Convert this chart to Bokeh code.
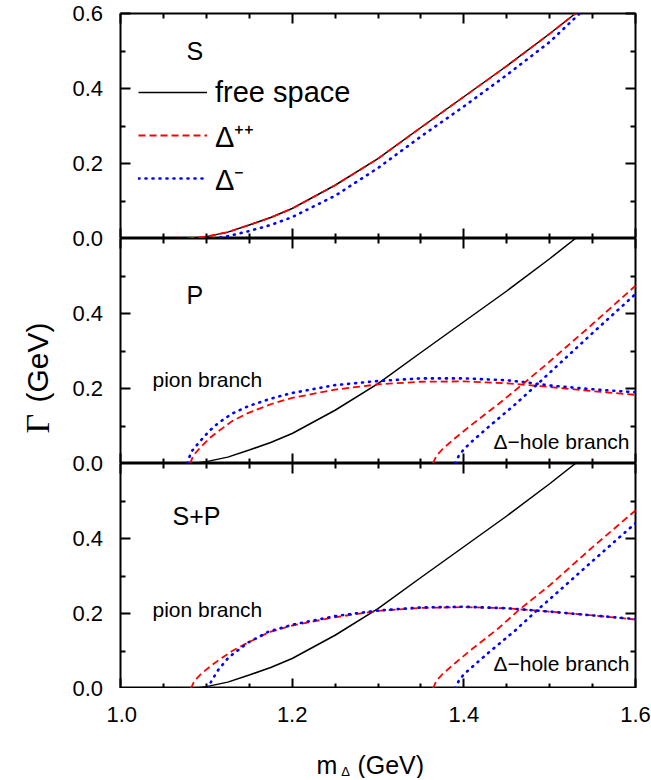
import math
from bokeh.plotting import figure
from bokeh.layouts import column, row
from bokeh.models import (Range1d, LinearAxis, FixedTicker, PrintfTickFormatter,
                          CustomJSTickFormatter, Label, Legend, LegendItem)
from bokeh.core.properties import value
from bokeh.embed import file_html
from bokeh.resources import INLINE

# ---------------- data ----------------
# free-space width (same curve in all three panels)
m_free = [1.076, 1.09, 1.10, 1.125, 1.15, 1.175, 1.20, 1.25, 1.30, 1.35, 1.40, 1.45, 1.50, 1.53, 1.55]
g_free = [0.000, 0.002, 0.005, 0.017, 0.036, 0.056, 0.080, 0.142, 0.213, 0.296, 0.378, 0.460, 0.546, 0.600, 0.634]

# S-wave panel
m_s_pp = [1.078, 1.10, 1.125, 1.15, 1.175, 1.20, 1.25, 1.30, 1.35, 1.40, 1.45, 1.50, 1.53, 1.55]
g_s_pp = [0.000, 0.005, 0.017, 0.036, 0.056, 0.080, 0.142, 0.213, 0.296, 0.378, 0.460, 0.546, 0.600, 0.634]
m_s_m = [1.108, 1.125, 1.15, 1.175, 1.20, 1.25, 1.30, 1.35, 1.40, 1.45, 1.50, 1.535, 1.55]
g_s_m = [0.000, 0.006, 0.020, 0.036, 0.057, 0.114, 0.188, 0.272, 0.352, 0.436, 0.524, 0.600, 0.628]

# P-wave panel: pion branch and Delta-hole branch
m_p_pion_pp = [1.081, 1.085, 1.094, 1.104, 1.114, 1.13, 1.149, 1.175, 1.20, 1.25, 1.30, 1.35, 1.40, 1.45, 1.50, 1.55, 1.60]
g_p_pion_pp = [0.000, 0.022, 0.045, 0.068, 0.086, 0.113, 0.135, 0.158, 0.175, 0.197, 0.211, 0.218, 0.219, 0.214, 0.204, 0.193, 0.183]
m_p_pion_m = [1.078, 1.082, 1.094, 1.104, 1.114, 1.13, 1.149, 1.175, 1.20, 1.25, 1.30, 1.35, 1.40, 1.45, 1.474, 1.50, 1.55, 1.60]
g_p_pion_m = [0.000, 0.030, 0.063, 0.088, 0.108, 0.133, 0.153, 0.173, 0.188, 0.209, 0.220, 0.227, 0.227, 0.222, 0.216, 0.208, 0.198, 0.190]
m_p_hole_pp = [1.364, 1.368, 1.375, 1.39, 1.41, 1.44, 1.471, 1.50, 1.55, 1.60]
g_p_hole_pp = [0.000, 0.020, 0.038, 0.068, 0.105, 0.158, 0.216, 0.272, 0.372, 0.474]
m_p_hole_m = [1.390, 1.394, 1.40, 1.41, 1.43, 1.46, 1.485, 1.50, 1.55, 1.60]
g_p_hole_m = [0.000, 0.020, 0.038, 0.060, 0.100, 0.158, 0.210, 0.242, 0.348, 0.452]

# S+P panel
m_sp_pion_pp = [1.082, 1.086, 1.094, 1.104, 1.114, 1.13, 1.149, 1.173, 1.20, 1.25, 1.30, 1.35, 1.40, 1.45, 1.50, 1.55, 1.60]
g_sp_pion_pp = [0.000, 0.020, 0.039, 0.058, 0.075, 0.100, 0.123, 0.150, 0.168, 0.190, 0.207, 0.215, 0.217, 0.214, 0.205, 0.195, 0.184]
m_sp_pion_m = [1.101, 1.106, 1.114, 1.126, 1.149, 1.173, 1.20, 1.25, 1.30, 1.35, 1.40, 1.45, 1.50, 1.55, 1.60]
g_sp_pion_m = [0.000, 0.020, 0.050, 0.083, 0.123, 0.152, 0.170, 0.193, 0.208, 0.216, 0.218, 0.214, 0.205, 0.195, 0.185]
m_sp_hole_pp = [1.364, 1.368, 1.375, 1.39, 1.41, 1.44, 1.465, 1.50, 1.55, 1.60]
g_sp_hole_pp = [0.000, 0.020, 0.038, 0.068, 0.106, 0.160, 0.211, 0.275, 0.377, 0.475]
m_sp_hole_m = [1.390, 1.394, 1.40, 1.41, 1.43, 1.46, 1.485, 1.50, 1.55, 1.60]
g_sp_hole_m = [0.000, 0.020, 0.038, 0.058, 0.098, 0.155, 0.208, 0.238, 0.340, 0.441]

# axes / tick labels
x_major = [1.0, 1.2, 1.4, 1.6]
x_minor = [1.05, 1.1, 1.15, 1.25, 1.3, 1.35, 1.45, 1.5, 1.55]
y_major_top = [0.0, 0.2, 0.4, 0.6]
y_major = [0.0, 0.2, 0.4]
y_minor = [0.1, 0.3, 0.5]
# tick labels of the three stacked panels (bottom panel first) on one label strip
y_label_ticks = [0.0, 0.2, 0.4, 0.6, 0.8, 1.0, 1.2, 1.4, 1.6, 1.8]
y_label_texts = ["0.0", "0.2", "0.4", "0.0", "0.2", "0.4", "0.0", "0.2", "0.4", "0.6"]

panel_names = ["S", "P", "S+P"]
legend_labels = ["free space", "Δ⁺⁺", "Δ⁻"]

# ---------------- styling ----------------
SANS = "Liberation Sans"
SERIF = "Liberation Serif"
FW, FH = 515, 225
LB = 14          # left border of the panels (label strip is to their left)
EMPTY = "return ''"


def style_axis(ax):
    ax.axis_line_color = None
    ax.major_tick_in = 10
    ax.major_tick_out = 0
    ax.minor_tick_in = 5
    ax.minor_tick_out = 0
    ax.major_tick_line_width = 2
    ax.minor_tick_line_width = 2
    ax.major_tick_line_color = "black"
    ax.minor_tick_line_color = "black"
    ax.formatter = CustomJSTickFormatter(code=EMPTY)
    ax.major_label_text_font_size = "0px"
    ax.major_label_standoff = 0


def panel(top_border, y_ticks):
    p = figure(frame_width=FW, frame_height=FH,
               x_range=Range1d(1.0, 1.6), y_range=Range1d(0.0, 0.6),
               output_backend="svg", toolbar_location=None,
               x_axis_location=None, y_axis_location=None,
               min_border_left=LB, min_border_right=10,
               min_border_top=top_border, min_border_bottom=0,
               background_fill_color="white", border_fill_color="white")
    for g in p.grid:
        g.visible = False
    p.outline_line_color = "black"
    p.outline_line_width = 2
    p.outline_line_alpha = 1.0
    for loc, tk, mn in (("below", x_major, x_minor), ("above", x_major, x_minor),
                        ("left", y_ticks, y_minor), ("right", y_ticks, y_minor)):
        ax = LinearAxis(ticker=FixedTicker(ticks=tk, minor_ticks=mn))
        style_axis(ax)
        p.add_layout(ax, loc)
    return p


def free_line(p):
    return p.line(m_free, g_free, line_color="black", line_width=1.5)


def red_line(p, x, y):
    return p.line(x, y, line_color="#ff0000", line_width=1.8, line_dash="7 4")


def blue_line(p, x, y):
    return p.line(x, y, line_color="#0000ff", line_width=2.6, line_dash="1 6",
                  line_cap="round")


def panel_label(p, text, x, y):
    p.add_layout(Label(x=x, y=y, text=text, text_font=SANS, text_font_size="25px",
                       text_color="black", text_baseline="middle", text_align="left"))


def branch_labels(p, y_pion, y_hole):
    p.add_layout(Label(x=1.0373, y=y_pion, text="pion branch", text_font=SANS,
                       text_font_size="21px", text_color="black",
                       text_baseline="middle", text_align="left"))
    p.add_layout(Label(x=1.593, y=y_hole, text="Δ−hole branch", text_font=SANS,
                       text_font_size="21px", text_color="black",
                       text_baseline="middle", text_align="right"))


# ---------------- panel 1: S ----------------
p1 = panel(13, y_major_top)
r_free = free_line(p1)
r_pp = red_line(p1, m_s_pp, g_s_pp)
r_m = blue_line(p1, m_s_m, g_s_m)
panel_label(p1, panel_names[0], 1.077, 0.50)
legend = Legend(items=[LegendItem(label=legend_labels[0], renderers=[r_free]),
                       LegendItem(label=legend_labels[1], renderers=[r_pp]),
                       LegendItem(label=legend_labels[2], renderers=[r_m])],
                location=(18, 40), orientation="vertical",
                border_line_color=None, background_fill_alpha=0.0,
                padding=0, margin=0, spacing=3,
                glyph_width=69, glyph_height=40, label_height=40, label_standoff=8,
                label_text_font=SANS, label_text_font_size="29px", label_text_color="black")
p1.add_layout(legend)

# ---------------- panel 2: P ----------------
p2 = panel(0, y_major)
free_line(p2)
red_line(p2, m_p_pion_pp, g_p_pion_pp)
blue_line(p2, m_p_pion_m, g_p_pion_m)
red_line(p2, m_p_hole_pp, g_p_hole_pp)
blue_line(p2, m_p_hole_m, g_p_hole_m)
panel_label(p2, panel_names[1], 1.077, 0.45)
branch_labels(p2, 0.225, 0.059)

# ---------------- panel 3: S+P ----------------
p3 = panel(0, y_major)
free_line(p3)
red_line(p3, m_sp_pion_pp, g_sp_pion_pp)
blue_line(p3, m_sp_pion_m, g_sp_pion_m)
red_line(p3, m_sp_hole_pp, g_sp_hole_pp)
blue_line(p3, m_sp_hole_m, g_sp_hole_m)
panel_label(p3, panel_names[2], 1.0606, 0.461)
branch_labels(p3, 0.21, 0.067)

# ---------------- x tick labels + x title strip ----------------
xt = figure(frame_width=FW, frame_height=43,
            x_range=Range1d(1.0, 1.6), y_range=Range1d(0, 43),
            output_backend="svg", toolbar_location=None,
            x_axis_location=None, y_axis_location=None,
            min_border_left=LB, min_border_right=17, min_border_top=47, min_border_bottom=0,
            outline_line_color=None)
for g in xt.grid:
    g.visible = False
xax = LinearAxis(ticker=FixedTicker(ticks=x_major, minor_ticks=[]),
                 formatter=PrintfTickFormatter(format="%.1f"))
xax.axis_line_color = None
xax.major_tick_in = 0
xax.major_tick_out = 0
xax.minor_tick_in = 0
xax.minor_tick_out = 0
xax.major_label_text_font = SANS
xax.major_label_text_font_size = "22px"
xax.major_label_text_color = "black"
xax.major_label_standoff = 14
xt.add_layout(xax, "above")
xt.text(x=[1.2283], y=[14], text=["m"], text_font=value(SANS), text_font_size="25px",
        text_color="black", text_baseline="alphabetic", text_align="left")
xt.text(x=[1.2572], y=[7], text=["Δ"], text_font=value(SANS), text_font_size="13px",
        text_color="black", text_baseline="alphabetic", text_align="left")
xt.text(x=[1.2760], y=[14], text=["(GeV)"], text_font=value(SANS), text_font_size="25px",
        text_color="black", text_baseline="alphabetic", text_align="left")

# ---------------- y tick labels + y title strip ----------------
yt = figure(frame_width=68, frame_height=3 * FH,
            x_range=Range1d(0, 68), y_range=Range1d(0.0, 1.8),
            output_backend="svg", toolbar_location=None,
            x_axis_location=None, y_axis_location=None,
            min_border_left=0, min_border_right=35, min_border_top=13, min_border_bottom=90,
            outline_line_color=None)
for g in yt.grid:
    g.visible = False
yax = LinearAxis(ticker=FixedTicker(ticks=y_label_ticks, minor_ticks=[]),
                 formatter=CustomJSTickFormatter(
                     args=dict(vals=y_label_ticks, labs=y_label_texts),
                     code="for (let i = 0; i < vals.length; i++) {"
                          " if (Math.abs(vals[i] - tick) < 1e-6) return labs[i]; }"
                          " return '';"))
yax.axis_line_color = None
yax.major_tick_in = 0
yax.major_tick_out = 0
yax.minor_tick_in = 0
yax.minor_tick_out = 0
yax.major_label_text_font = SANS
yax.major_label_text_font_size = "22px"
yax.major_label_text_color = "black"
yax.major_label_standoff = 4
yt.add_layout(yax, "right")
yt.text(x=[37], y=[0.68], text=["Γ"], angle=math.pi / 2, text_font=value(SERIF),
        text_font_size="34px", text_color="black",
        text_baseline="alphabetic", text_align="left")
yt.text(x=[37], y=[0.7627], text=["(GeV)"], angle=math.pi / 2, text_font=value(SANS),
        text_font_size="30px", text_color="black",
        text_baseline="alphabetic", text_align="left")

layout = row(yt, column(p1, p2, p3, xt, spacing=0), spacing=0)
open("out.html", "w").write(file_html(layout, INLINE))
